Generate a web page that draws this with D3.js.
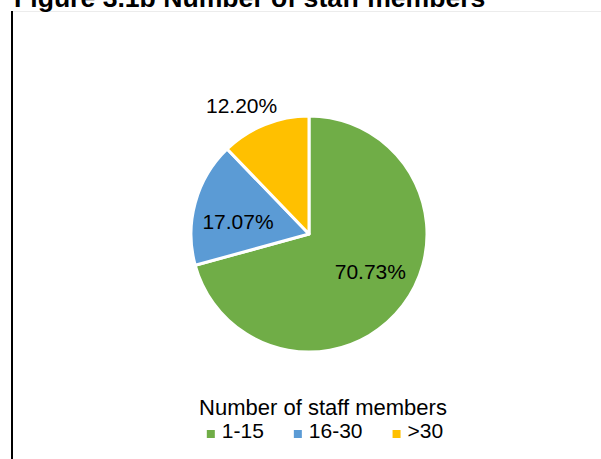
<!DOCTYPE html>
<html>
<head>
<meta charset="utf-8">
<script src="https://cdn.jsdelivr.net/npm/d3@7"></script>
<style>
  html, body { margin: 0; padding: 0; background: #fff; }
  svg { display: block; }
  text { font-family: "Liberation Sans", Arial, sans-serif; fill: #000; }
</style>
</head>
<body>
<svg id="chart" width="601" height="459"></svg>
<script>
const titleText = "Figure 3.1b Number of staff members";
const legendTitle = "Number of staff members";
const categories = ["1-15", "16-30", ">30"];
const values = [70.73, 17.07, 12.20];
const colors = ["#70AD47", "#5B9BD5", "#FFC000"];

const svg = d3.select("#chart");
const W = 601, H = 459;

// frame: light top border and dark left border
svg.append("line").attr("x1", 12).attr("x2", W).attr("y1", 11.5).attr("y2", 11.5)
  .attr("stroke", "#ececec").attr("stroke-width", 1);
svg.append("line").attr("x1", 12).attr("x2", 12).attr("y1", 11).attr("y2", H)
  .attr("stroke", "#000").attr("stroke-width", 2);

// title (cut off at the top edge, as in the reference)
svg.append("text").attr("x", 14).attr("y", 7)
  .style("font-weight", "bold").style("font-size", "26.6px")
  .text(titleText);

const cx = 309, cy = 234, r = 118;
const g = svg.append("g").attr("transform", `translate(${cx},${cy})`);

const pie = d3.pie().sort(null).value(d => d.v);
const data = categories.map((c, i) => ({ c, v: values[i], col: colors[i] }));
const arcs = pie(data);
const arc = d3.arc().innerRadius(0).outerRadius(r);
const labelShift = -0.1; // radians, label placement tweak
function labelPos(d, rr) {
  const a = (d.startAngle + d.endAngle) / 2 + labelShift;
  return [rr * Math.sin(a), -rr * Math.cos(a)];
}

g.selectAll("path").data(arcs).join("path")
  .attr("d", arc)
  .attr("fill", d => d.data.col)
  .attr("stroke", "#fff").attr("stroke-width", 3).attr("stroke-linejoin", "round");

g.selectAll("text.lbl").data(arcs).join("text")
  .attr("class", "lbl")
  .attr("transform", d => {
    const p = labelPos(d, d.data.v < 15 ? r * 1.23 : r * 0.61);
    return `translate(${p[0]},${p[1]})`;
  })
  .attr("text-anchor", "middle").attr("dy", "0.35em")
  .style("font-size", "21px")
  .text(d => d.data.v.toFixed(2) + "%");

// legend
const legendCx = 325;
svg.append("text").attr("x", legendCx - 2).attr("y", 415)
  .attr("text-anchor", "middle").style("font-size", "22px")
  .text(legendTitle);

const lg = svg.append("g");
const items = lg.selectAll("g").data(data).join("g");
items.append("rect").attr("width", 8).attr("height", 8).attr("y", -8)
  .attr("fill", d => d.col);
items.append("text").attr("x", 15).attr("y", 0).style("font-size", "21px")
  .text(d => d.c);
let xoff = 0;
items.each(function () {
  const w = 15 + this.querySelector("text").getComputedTextLength();
  d3.select(this).attr("transform", `translate(${xoff},0)`);
  xoff += w + 30;
});
const total = xoff - 30;
lg.attr("transform", `translate(${legendCx - total / 2},438)`);
</script>
</body>
</html>
